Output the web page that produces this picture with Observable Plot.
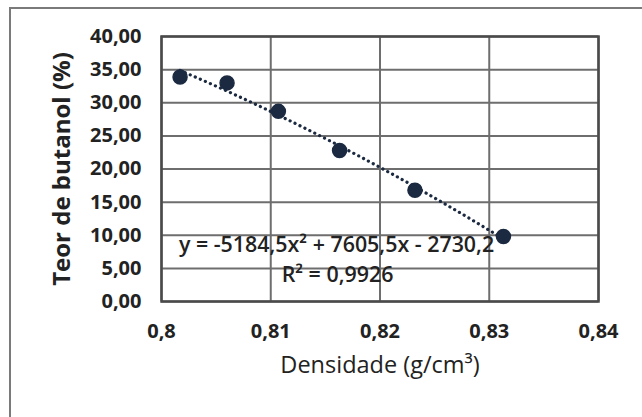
<!DOCTYPE html>
<html>
<head>
<meta charset="utf-8">
<script src="https://cdn.jsdelivr.net/npm/d3@7"></script>
<script src="https://cdn.jsdelivr.net/npm/@observablehq/plot@0.6"></script>
<style>
  html, body { margin: 0; padding: 0; background: #fff; overflow: hidden; }
  #wrap { position: relative; width: 642px; height: 417px; }
  #border { position: absolute; left: 9px; top: 7px; width: 700px; height: 500px;
            border-left: 2px solid #7a7a7a; border-top: 2px solid #7a7a7a; }
  #chart { position: absolute; left: 0; top: 0; }
</style>
</head>
<body>
<div id="wrap"><div id="border"></div><div id="chart"></div></div>
<script>
// Data
const density = [0.8017, 0.8060, 0.8107, 0.8163, 0.8232, 0.8313];   // g/cm³
const butanol = [33.9, 33.0, 28.7, 22.8, 16.8, 9.8];                  // %
const xTicks = [0.80, 0.81, 0.82, 0.83, 0.84];
const yTicks = [0, 5, 10, 15, 20, 25, 30, 35, 40];
const xTitle = "Densidade (g/cm³)";
const yTitle = "Teor de butanol (%)";
const equationLabel = "y = -5184,5x² + 7605,5x - 2730,2";
const r2Label = "R² = 0,9926";

const points = density.map((d, i) => ({x: d, y: butanol[i]}));

// Quadratic least-squares trendline computed from the data
function quadFit(xs, ys) {
  const m = d3.mean(xs);
  const u = xs.map(x => x - m);
  let S = [0,0,0,0,0], T = [0,0,0];
  u.forEach((t, i) => {
    for (let k = 0; k < 5; k++) S[k] += t ** k;
    for (let k = 0; k < 3; k++) T[k] += ys[i] * t ** k;
  });
  const A = [[S[0],S[1],S[2],T[0]],[S[1],S[2],S[3],T[1]],[S[2],S[3],S[4],T[2]]];
  for (let c = 0; c < 3; c++) {
    for (let r = c + 1; r < 3; r++) {
      const f = A[r][c] / A[c][c];
      for (let k = c; k < 4; k++) A[r][k] -= f * A[c][k];
    }
  }
  const b = [0,0,0];
  for (let r = 2; r >= 0; r--) {
    let s = A[r][3];
    for (let k = r + 1; k < 3; k++) s -= A[r][k] * b[k];
    b[r] = s / A[r][r];
  }
  return x => b[0] + b[1] * (x - m) + b[2] * (x - m) ** 2;
}
const fit = quadFit(density, butanol);
const [x0, x1] = d3.extent(density);
const trend = d3.range(0, 61).map(i => {
  const x = x0 + (x1 - x0) * i / 60;
  return {x, y: fit(x)};
});

const FONT = "'Open Sans', 'DejaVu Sans', sans-serif";
const navy = "#1b2a41";
const ink = "#222";
const fmtX = d => String(+d.toFixed(2)).replace(".", ",");
const fmtY = d => d.toFixed(2).replace(".", ",");

const chart = Plot.plot({
  width: 642,
  height: 417,
  marginLeft: 161,
  marginRight: 44,
  marginTop: 36,
  marginBottom: 116,
  style: {fontFamily: FONT, background: "transparent", overflow: "visible"},
  x: {domain: [0.80, 0.84], label: null},
  y: {domain: [0, 40], label: null},
  marks: [
    Plot.gridX(xTicks, {stroke: "#6e6e6e", strokeOpacity: 1, strokeWidth: 2}),
    Plot.gridY(yTicks, {stroke: "#6e6e6e", strokeOpacity: 1, strokeWidth: 2}),
    Plot.frame({stroke: "#4a4a4a", strokeWidth: 2.5}),
    Plot.axisX(xTicks, {
      tickFormat: fmtX, tickSize: 0, tickPadding: 22,
      fontSize: 20, fontWeight: 700, fill: ink, label: null
    }),
    Plot.axisY(yTicks, {
      tickFormat: fmtY, tickSize: 0, tickPadding: 20,
      fontSize: 20, fontWeight: 700, fill: ink, label: null
    }),
    Plot.text([xTitle], {text: d => d, frameAnchor: "bottom", dy: 71,
      fontSize: 23.5, fontWeight: 400, fill: ink}),
    Plot.text([yTitle], {text: d => d, frameAnchor: "left", dx: -99, rotate: -90,
      textAnchor: "middle", lineAnchor: "middle",
      fontSize: 24, fontWeight: 700, fill: ink}),
    Plot.line(trend, {x: "x", y: "y", stroke: navy, strokeWidth: 3.2,
      strokeDasharray: "0.1 5.4", strokeLinecap: "round"}),
    Plot.dot(points, {x: "x", y: "y", r: 7, fill: navy, stroke: navy}),
    Plot.text([equationLabel], {text: d => d, frameAnchor: "bottom-left", dx: 175, dy: -50,
      textAnchor: "middle", fontSize: 21.4, fontWeight: 600, fill: ink}),
    Plot.text([r2Label], {text: d => d, frameAnchor: "bottom-left", dx: 176, dy: -20,
      textAnchor: "middle", fontSize: 21.4, fontWeight: 600, fill: ink})
  ]
});
document.getElementById("chart").appendChild(chart);
</script>
</body>
</html>
